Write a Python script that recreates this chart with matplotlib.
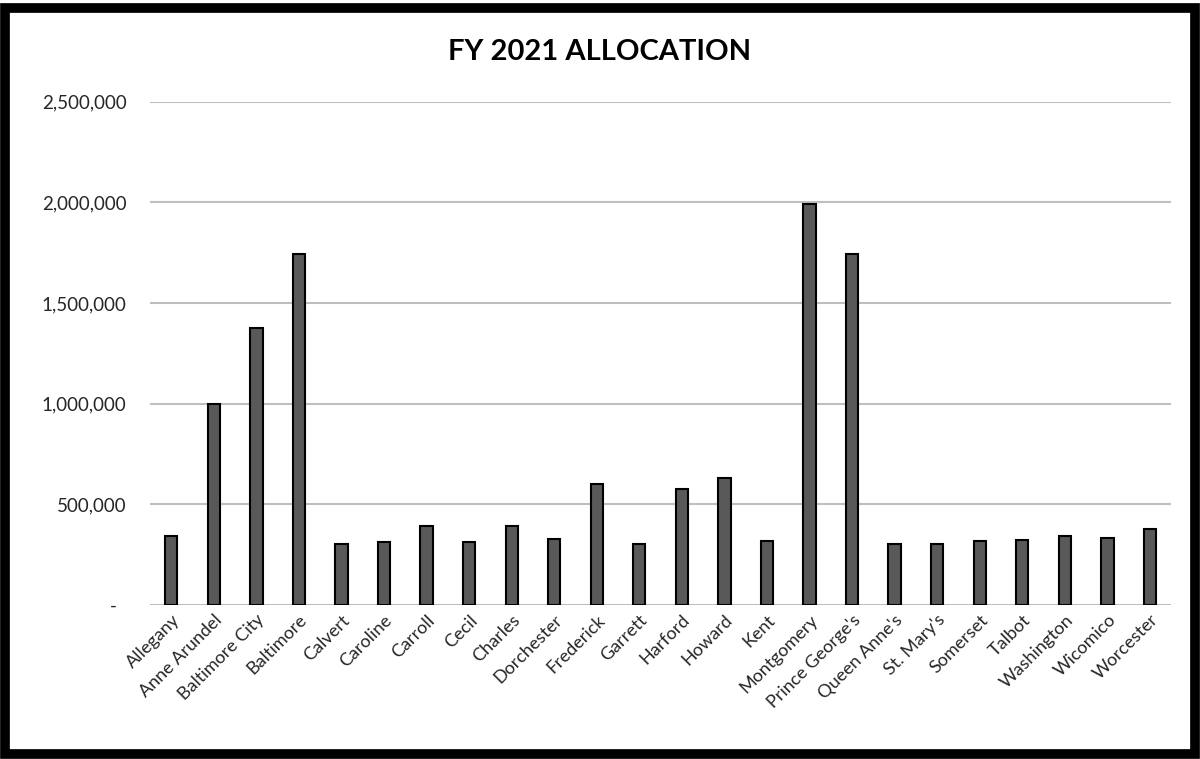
import matplotlib.pyplot as plt
import numpy as np
from matplotlib.patches import Rectangle
from matplotlib.ticker import FuncFormatter

plt.rcParams['font.family'] = ['Lato', 'DejaVu Sans']

# Data
counties = ['Allegany', 'Anne Arundel', 'Baltimore City', 'Baltimore', 'Calvert',
            'Caroline', 'Carroll', 'Cecil', 'Charles', 'Dorchester', 'Frederick',
            'Garrett', 'Harford', 'Howard', 'Kent', 'Montgomery', "Prince George's",
            "Queen Anne's", "St. Mary's", 'Somerset', 'Talbot', 'Washington',
            'Wicomico', 'Worcester']
allocation = [344000, 998000, 1375000, 1741000, 304000,
              311000, 392000, 311000, 392000, 328000, 601000,
              304000, 576000, 630000, 316000, 1990000, 1743000,
              304000, 304000, 316000, 321000, 344000,
              334000, 379000]
y_ticks = [0, 500000, 1000000, 1500000, 2000000, 2500000]

fig = plt.figure(figsize=(12, 7.59), dpi=100)
ax = fig.add_axes([0.125, 0.203, 0.851, 0.663])

x = np.arange(len(counties))
ax.bar(x, allocation, width=0.29, color='#595959', edgecolor='black', linewidth=1.5, zorder=3)

ax.set_xlim(-0.5, len(counties) - 0.5)
ax.set_ylim(0, 2500000)
ax.set_yticks(y_ticks)
ax.yaxis.set_major_formatter(FuncFormatter(lambda v, p: '-  ' if v == 0 else f'{int(v):,}'))
ax.grid(axis='y', color='#bfbfbf', linewidth=1.5, zorder=0)
ax.set_axisbelow(True)

ax.set_xticks(x)
ax.set_xticklabels(counties, rotation=45, ha='right', rotation_mode='anchor', fontsize=13)
ax.tick_params(axis='both', length=0, colors='#262626')
ax.tick_params(axis='y', labelsize=13.5, pad=17)
ax.tick_params(axis='x', pad=5)

for s in ['top', 'left', 'right', 'bottom']:
    ax.spines[s].set_visible(False)

fig.text(0.5, 0.932, 'FY 2021 ALLOCATION', ha='center', va='center',
         fontsize=21, fontweight='bold', color='black')

# black frame around the whole chart
fig.patches.append(Rectangle((0.004, 0.006), 0.992, 0.984, transform=fig.transFigure,
                             fill=False, edgecolor='black', linewidth=7))

fig.savefig('out.png', dpi=100, facecolor='white')
